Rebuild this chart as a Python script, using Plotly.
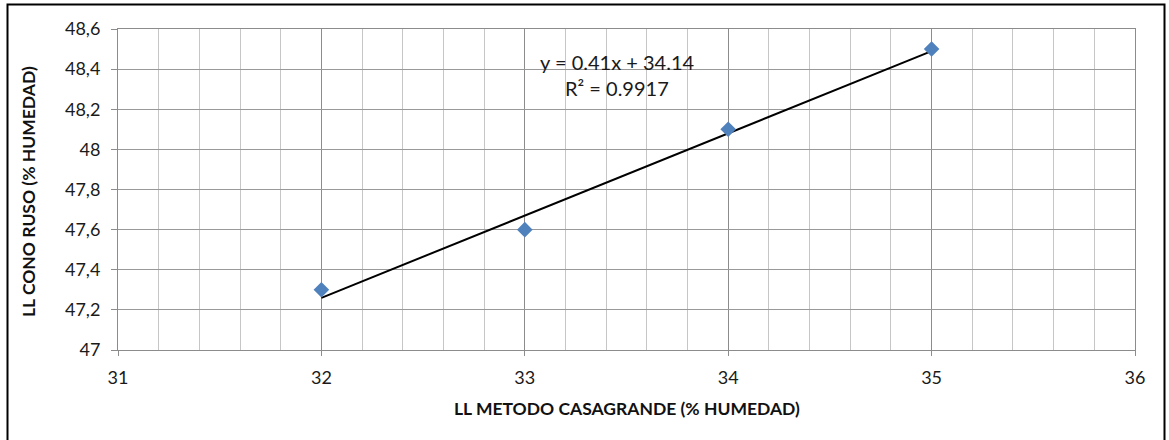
import numpy as np
import plotly.graph_objects as go

x_vals = [32, 33, 34, 35]
y_vals = [47.3, 47.6, 48.1, 48.5]
x_title = "LL METODO CASAGRANDE (% HUMEDAD)"
y_title = "LL CONO RUSO (% HUMEDAD)"

slope, intercept = np.polyfit(x_vals, y_vals, 1)
pred = np.polyval([slope, intercept], x_vals)
r2 = 1 - np.sum((np.array(y_vals) - pred) ** 2) / np.sum((np.array(y_vals) - np.mean(y_vals)) ** 2)
trend_x = [min(x_vals), max(x_vals)]
trend_y = list(np.polyval([slope, intercept], trend_x))

FONT = "Lato"
TXT = "#1a1a1a"
fig = go.Figure()
fig.add_trace(go.Scatter(x=trend_x, y=trend_y, mode="lines",
                         line=dict(color="black", width=2), showlegend=False))
fig.add_trace(go.Scatter(x=x_vals, y=y_vals, mode="markers",
                         marker=dict(symbol="diamond", size=12, color="#4F81BD",
                                     line=dict(width=0)), showlegend=False))

fig.update_layout(
    width=1169, height=440,
    margin=dict(l=118, r=34, t=29, b=90),
    paper_bgcolor="white", plot_bgcolor="white",
    separators=",.",
    font=dict(family=FONT, size=17, color=TXT),
    xaxis=dict(range=[31, 36], dtick=1, tick0=31, showgrid=True, gridcolor="#8c8c8c", gridwidth=1,
               minor=dict(dtick=0.2, tick0=31, showgrid=True, gridcolor="#c6c6c6", gridwidth=1),
               showline=True, linecolor="#8c8c8c", linewidth=1, mirror=True,
               ticks="outside", ticklen=5, tickcolor="#8c8c8c", ticklabelstandoff=6,
               zeroline=False, tickfont=dict(family=FONT, size=18, color=TXT)),
    yaxis=dict(range=[47, 48.6], dtick=0.2, tick0=47, showgrid=True, gridcolor="#999999", gridwidth=1,
               showline=True, linecolor="#8c8c8c", linewidth=1, mirror=True,
               ticks="outside", ticklen=6, tickcolor="#8c8c8c", ticklabelstandoff=7,
               zeroline=False, tickformat=".1~f", tickfont=dict(family=FONT, size=18, color=TXT)),
)

def ann(text, px, py, size, angle=0, color=TXT):
    fig.add_annotation(text=text, xref="paper", yref="paper",
                       x=(px - 118) / 1017, y=(350 - py) / 321,
                       xanchor="center", yanchor="middle", showarrow=False, textangle=angle,
                       font=dict(family=FONT, size=size, color=color))

ann(f"y = {slope:.2f}x + {intercept:.2f}", 617, 62, 20)
ann(f"R² = {r2:.4f}", 617, 88, 20)
ann(f"<b>{x_title}</b>", 627, 409, 17.5, color="#111")
ann(f"<b>{y_title}</b>", 29, 192, 17.5, angle=-90, color="#111")

fig.add_shape(type="rect", xref="paper", yref="paper",
              x0=(7.5 - 118) / 1017, x1=(1164.5 - 118) / 1017,
              y0=(350 - 460) / 321, y1=(350 - 4.5) / 321,
              line=dict(color="black", width=2), layer="below")

fig.write_html("out.html")
